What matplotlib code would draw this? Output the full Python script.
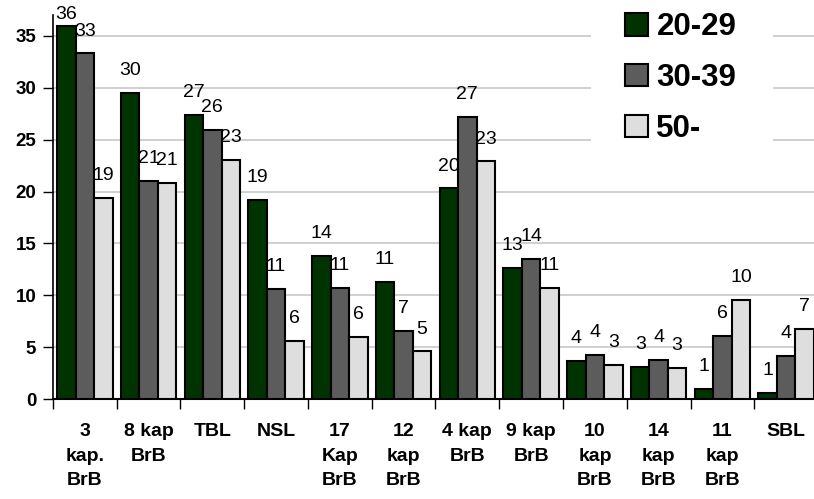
import matplotlib.pyplot as plt
import numpy as np
import matplotlib
from matplotlib.patches import Rectangle

matplotlib.rcParams['font.family'] = ['Liberation Sans', 'DejaVu Sans']

categories = ["3\nkap.\nBrB", "8 kap\nBrB", "TBL", "NSL", "17\nKap\nBrB", "12\nkap\nBrB",
              "4 kap\nBrB", "9 kap\nBrB", "10\nkap\nBrB", "14\nkap\nBrB", "11\nkap\nBrB", "SBL"]
series_names = ["20-29", "30-39", "50-"]
vals_20_29 = [35.9, 29.5, 27.4, 19.2, 13.8, 11.3, 20.3, 12.6, 3.7, 3.1, 1.0, 0.6]
vals_30_39 = [33.3, 21.0, 25.9, 10.6, 10.7, 6.6, 27.2, 13.5, 4.3, 3.8, 6.1, 4.2]
vals_50 = [19.4, 20.8, 23.0, 5.6, 6.0, 4.6, 22.9, 10.7, 3.3, 3.0, 9.6, 6.8]

colors = ['#003300', '#5c5c5c', '#dedede']

fig = plt.figure(figsize=(8.14, 4.99), dpi=100)
ax = fig.add_axes([0.065, 0.2, 0.94, 0.77])

n = len(categories)
x = np.arange(n)
bar_width = 0.29
all_vals = [vals_20_29, vals_30_39, vals_50]

bars = []
for i, vals in enumerate(all_vals):
    pos = x + (i - 1) * bar_width
    b = ax.bar(pos, vals, bar_width, color=colors[i], edgecolor='black', linewidth=1.5,
               label=series_names[i], zorder=3)
    bars.append(b)
    for p, v in zip(pos, vals):
        ax.annotate(f"{round(v)}", (p, min(v, 34.9)), xytext=(0, 10), textcoords='offset points',
                    ha='center', va='bottom', fontsize=14, zorder=4)

ax.set_xlim(-0.5, n - 0.5)
ax.set_ylim(0, 37)
ax.set_yticks(np.arange(0, 36, 5))
ax.yaxis.grid(True, color='#c8c8c8', linewidth=1.2, zorder=0)
ax.set_axisbelow(True)

# boundary ticks (major) and centered labels (minor)
ax.set_xticks(np.arange(n + 1) - 0.5)
ax.set_xticklabels([])
ax.set_xticks(x, minor=True)
ax.set_xticklabels(categories, minor=True, fontweight='bold', fontsize=14, linespacing=1.6,
                   va='top')
ax.tick_params(axis='x', which='major', length=7, width=1, direction='out')
ax.tick_params(axis='x', which='minor', length=0, pad=17)
ax.tick_params(axis='y', length=7, width=1, labelsize=13.5, pad=5)
for lab in ax.get_yticklabels():
    lab.set_fontweight('bold')

for s in ['top', 'right']:
    ax.spines[s].set_visible(False)
ax.spines['left'].set_linewidth(1.2)
ax.spines['bottom'].set_linewidth(1.5)

# white area behind the legend, hiding the gridlines
fig.add_artist(Rectangle((591 / 814, 1 - 150 / 499), 182 / 814, 150 / 499,
                         transform=fig.transFigure, facecolor='white', edgecolor='none', zorder=5))

leg = fig.legend(handles=bars, labels=series_names, loc='upper left', bbox_to_anchor=(0.768, 0.975),
                 prop={'weight': 'bold', 'size': 22.5}, frameon=False,
                 handlelength=0.72, handleheight=0.72, handletextpad=0.28, labelspacing=0.66,
                 borderpad=0.0, borderaxespad=0)
leg.set_zorder(6)
for h in leg.legend_handles:
    h.set_linewidth(1.5)

plt.savefig('out.png', dpi=100)
